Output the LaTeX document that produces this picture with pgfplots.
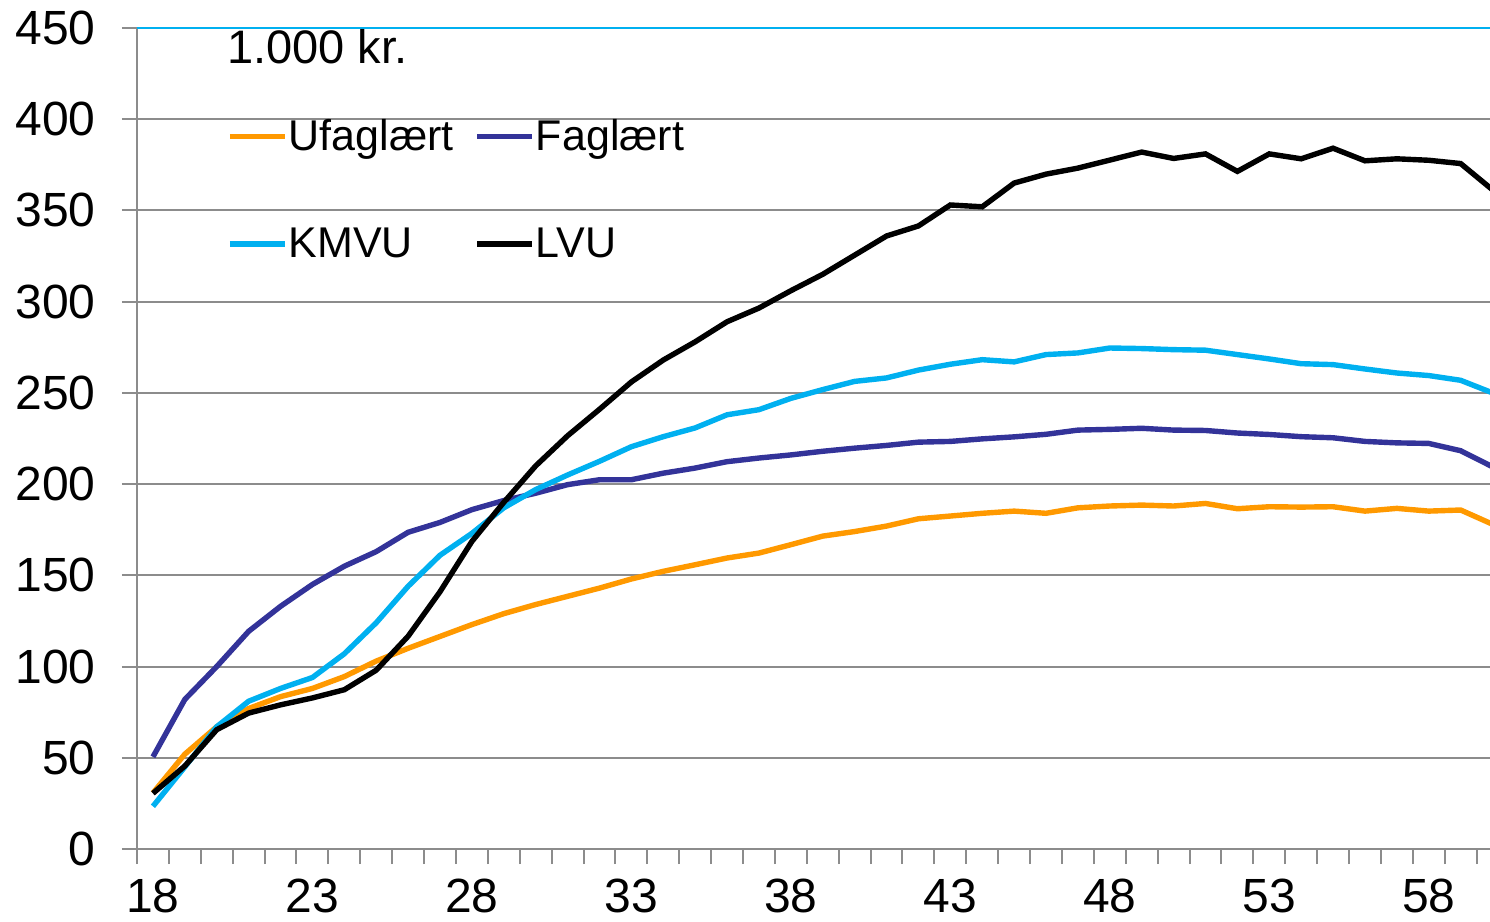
\documentclass[border=0pt]{standalone}
\usepackage{fontspec}
\setmainfont{Liberation Sans}
\usepackage{pgfplots}
\pgfplotsset{compat=1.18}
\definecolor{ufag}{HTML}{FF9900}
\definecolor{fag}{HTML}{333399}
\definecolor{kmvu}{HTML}{00B0F0}
\definecolor{gridc}{HTML}{8C8C8C}
\begin{document}
\begin{tikzpicture}
\begin{axis}[
  at={(0,0)}, anchor=south west,
  scale only axis,
  width=676.5bp, height=410.5bp,
  xmin=17.5, xmax=59.92,
  ymin=0, ymax=450,
  clip=true,
  axis lines*=left,
  axis line style={-, draw=gridc, line width=1bp},
  tick align=outside,
  major tick length=7.5bp,
  tick style={draw=gridc, line width=1bp},
  xtick={17.5,18.5,...,59.5},
  xticklabels={},
  extra x ticks={18,23,28,33,38,43,48,53,58},
  extra x tick style={tick style={draw=none}},
  ytick={0,50,...,400},
  extra y ticks={450},
  extra y tick style={major grid style={draw=kmvu, line width=1.2bp}},
  ymajorgrids,
  major grid style={draw=gridc, line width=1bp},
  /pgf/number format/assume math mode=true,
  /pgf/number format/1000 sep={},
  ticklabel style={font=\fontsize{24bp}{28bp}\selectfont, text=black},
  yticklabel style={inner sep=0pt, xshift=-13bp},
  xticklabel style={inner sep=0pt, yshift=-7.5bp},
  legend columns=2,
  legend cell align=left,
  legend style={draw=none, fill=none, at={(rel axis cs:0.062,0.895)}, anchor=north west,
    font=\fontsize{21.5bp}{26bp}\selectfont,
    nodes={inner sep=0.5bp},
    /tikz/every even column/.append style={column sep=10bp},
    row sep=36bp},
  legend image code/.code={\draw[#1, line width=2.7bp] (0bp,0bp) -- (27.5bp,0bp);},
]
\addplot[ufag, line width=2.7bp] coordinates {
(18,30.7)(19,52)(20,67)(21,77)(22,83.5)(23,88)(24,94.5)(25,103)(26,110)(27,116.5)
(28,123)(29,129)(30,134)(31,138.5)(32,143)(33,148)(34,152.2)(35,155.8)(36,159.5)(37,162.2)
(38,166.8)(39,171.5)(40,174)(41,177)(42,181)(43,182.5)(44,184)(45,185.2)(46,184)(47,187)
(48,188)(49,188.5)(50,188)(51,189.4)(52,186.5)(53,187.6)(54,187.4)(55,187.6)(56,185.2)(57,186.7)
(58,185.2)(59,185.8)(60,178)};
\addlegendentry{Ufaglært}
\addplot[fag, line width=2.7bp] coordinates {
(18,50.5)(19,82)(20,100)(21,119.3)(22,133)(23,145)(24,155)(25,163)(26,173.6)(27,179)
(28,186)(29,191)(30,195)(31,199.7)(32,202.4)(33,202.4)(34,206)(35,208.8)(36,212.3)(37,214.3)
(38,216)(39,218)(40,219.7)(41,221.2)(42,223)(43,223.4)(44,224.8)(45,225.9)(46,227.3)(47,229.6)
(48,230)(49,230.6)(50,229.6)(51,229.4)(52,228)(53,227.2)(54,226)(55,225.4)(56,223.4)(57,222.6)
(58,222.3)(59,218.3)(60,209.5)};
\addlegendentry{Faglært}
\addplot[kmvu, line width=2.7bp] coordinates {
(18,23.4)(19,45)(20,67)(21,81)(22,88)(23,94)(24,107)(25,124)(26,144)(27,161)
(28,173)(29,187)(30,197)(31,205)(32,212.5)(33,220.5)(34,226)(35,230.8)(36,238)(37,240.8)
(38,247)(39,251.8)(40,256.3)(41,258.2)(42,262.5)(43,265.7)(44,268.2)(45,267)(46,271)(47,271.9)
(48,274.6)(49,274.3)(50,273.7)(51,273.4)(52,271)(53,268.6)(54,266)(55,265.5)(56,263.1)(57,260.9)
(58,259.5)(59,256.9)(60,250)};
\addlegendentry{KMVU}
\addplot[black, line width=2.7bp] coordinates {
(18,30.5)(19,45.5)(20,65.4)(21,74.5)(22,79)(23,82.8)(24,87.3)(25,98)(26,116.6)(27,141)
(28,168.6)(29,190)(30,210)(31,226.5)(32,241)(33,256)(34,268)(35,278)(36,289)(37,296.5)
(38,306)(39,315)(40,325.5)(41,336)(42,341.5)(43,353)(44,352)(45,365)(46,369.9)(47,373.2)
(48,377.6)(49,382)(50,378.5)(51,381)(52,371.4)(53,381)(54,378.3)(55,384.1)(56,377.2)(57,378.3)
(58,377.5)(59,375.7)(60,361.3)};
\addlegendentry{LVU}
\node[anchor=base west, inner sep=0pt, font=\fontsize{23.5bp}{28bp}\selectfont] at (rel axis cs:0.0665,0.957) {1.000 kr.};
\end{axis}
\pgfresetboundingbox
\useasboundingbox (-68.5bp,-36.5bp) rectangle (676.5bp,424.5bp);
\end{tikzpicture}
\end{document}
